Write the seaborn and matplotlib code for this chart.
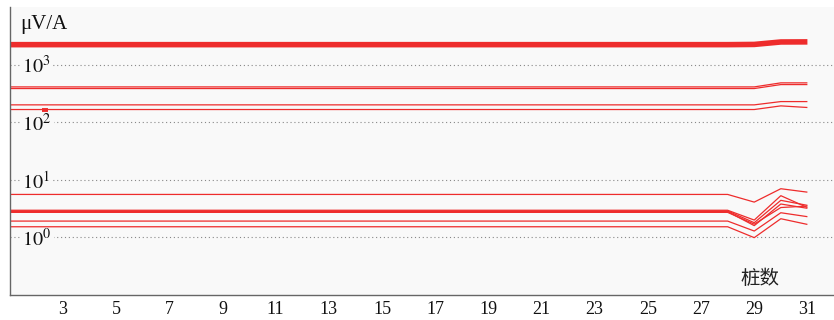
import numpy as np
import pandas as pd
import matplotlib
matplotlib.use("Agg")
import matplotlib.pyplot as plt
import matplotlib.ticker as mticker
import seaborn as sns

# Chart data: pile index vertices (lines are flat up to pile 28)
piles = [1, 28, 29, 30, 31]

# upper group (uV/A), thick top trace
top_thick = [2220, 2220, 2240, 2470, 2480]
upper_a = [410, 410, 410, 482, 482]
upper_b = [384, 384, 384, 450, 450]
upper_c = [200, 200, 200, 228, 228]
upper_d = [166, 166, 166, 192, 180]

# lower group
lower_e = [5.57, 5.57, 4.1, 7.0, 6.1]
bundle_1 = [2.96, 2.96, 2.0, 5.3, 3.3]
bundle_2 = [2.88, 2.88, 1.8, 4.4, 3.6]
bundle_3 = [2.80, 2.80, 1.6, 3.8, 3.2]
bundle_4 = [2.72, 2.72, 1.7, 3.3, 3.5]
lower_g = [1.92, 1.92, 1.29, 2.68, 2.29]
lower_h = [1.53, 1.53, 0.99, 2.11, 1.68]

# short stray mark near the left edge
stray_x = [2.2, 2.45]
stray_y = [166, 166]

x_ticks = list(range(3, 32, 2))
y_label = "μV/A"
x_label = "桩数"

RED = "#ee2c2c"
AX_BG = "#f9f9f9"
SPINE = "#666666"

sns.set_style("white")
plt.rcParams['font.family'] = ['Liberation Serif', 'DejaVu Serif']
plt.rcParams['mathtext.fontset'] = 'stix'

fig = plt.figure(figsize=(8.34, 3.2), dpi=100)
ax = fig.add_axes([9.8 / 834, 25 / 320, 1 - 9.8 / 834, 288 / 320])
ax.set_facecolor(AX_BG)

thin = [upper_a, upper_b, upper_c, upper_d, lower_e,
        bundle_1, bundle_2, bundle_3, bundle_4, lower_g, lower_h]
for series in thin:
    sns.lineplot(x=piles, y=series, ax=ax, color=RED, linewidth=0.9,
                 solid_capstyle='butt')
sns.lineplot(x=piles, y=top_thick, ax=ax, color=RED, linewidth=4.0,
             solid_capstyle='butt')
sns.lineplot(x=stray_x, y=stray_y, ax=ax, color=RED, linewidth=2.8,
             solid_capstyle='butt')

ax.set_yscale('log')
ax.set_ylim(0.1, 10000)
ax.set_xlim(1, 32)

ax.set_xticks(x_ticks)
ax.set_xticklabels([str(t) for t in x_ticks])
ax.yaxis.set_major_locator(mticker.FixedLocator([1, 10, 100, 1000]))
ax.yaxis.set_major_formatter(mticker.FixedFormatter(
    [r'$\mathrm{10^{0}}$', r'$\mathrm{10^{1}}$', r'$\mathrm{10^{2}}$', r'$\mathrm{10^{3}}$']))
ax.yaxis.set_minor_locator(mticker.LogLocator(base=10, subs=np.arange(2, 10), numticks=20))
ax.yaxis.set_minor_formatter(mticker.NullFormatter())

ax.tick_params(axis='x', direction='in', length=4, width=0.8, color=SPINE,
               labelsize=13, pad=4, labelcolor='#111111')
ax.tick_params(axis='y', which='major', direction='in', length=5, width=0.8,
               color=SPINE, labelsize=14.5, pad=-9, labelcolor='#111111')
ax.tick_params(axis='y', which='minor', direction='in', length=3, width=0.6,
               color=SPINE)
for lab in ax.get_yticklabels():
    lab.set_horizontalalignment('left')
    lab.set_bbox(dict(facecolor=AX_BG, edgecolor='none', pad=1.5))

ax.grid(axis='y', which='major', linestyle=(0, (1, 2.5)), color='#888888', linewidth=0.8)
ax.set_axisbelow(True)

for side in ['top', 'right']:
    ax.spines[side].set_visible(False)
for side in ['left', 'bottom']:
    ax.spines[side].set_color(SPINE)
    ax.spines[side].set_linewidth(1.0)

ax.set_xlabel("")
ax.set_ylabel("")
ax.text(0.013, 0.925, y_label, transform=ax.transAxes, fontsize=15,
        ha='left', va='baseline', color='#111111')
ax.text(0.886, 0.04, x_label, transform=ax.transAxes, fontsize=14,
        ha='left', va='baseline', color='#222222',
        family=['Noto Sans CJK SC', 'DejaVu Sans'])

fig.savefig("out.png", dpi=100, facecolor='white')
